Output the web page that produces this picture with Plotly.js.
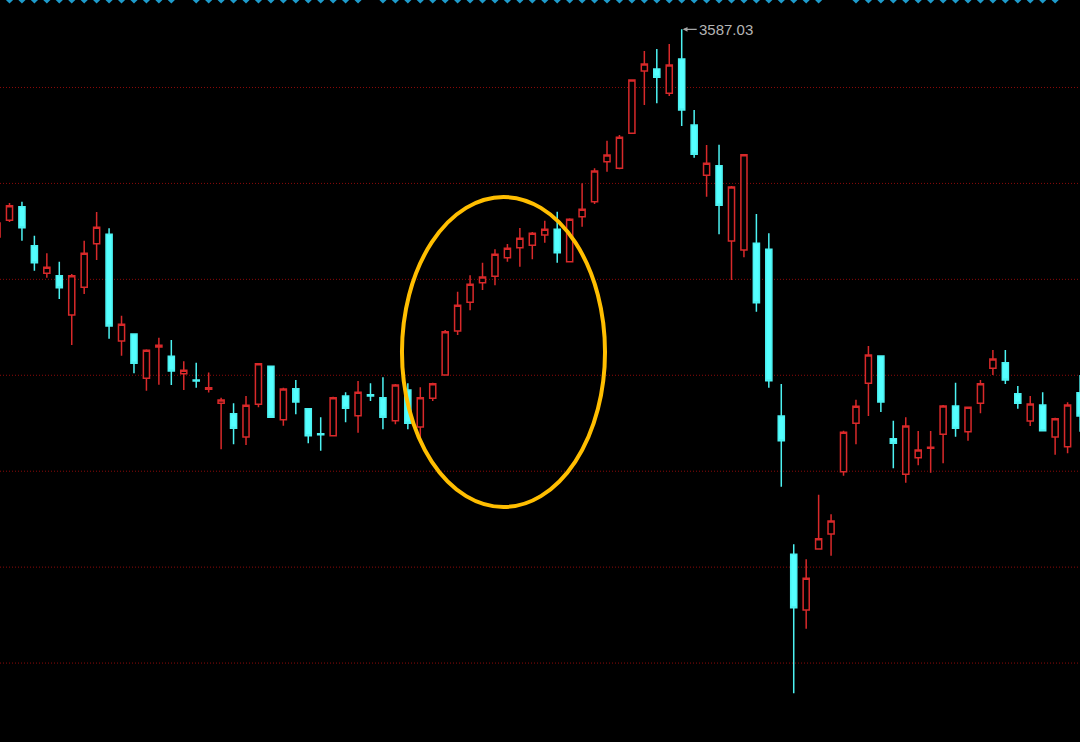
<!DOCTYPE html>
<html>
<head>
<meta charset="utf-8">
<script src="https://cdn.plot.ly/plotly-3.0.1.min.js"></script>
<style>
  html, body { margin: 0; padding: 0; background: #000; overflow: hidden; }
  #chart { width: 1080px; height: 742px; }
</style>
</head>
<body>
<div id="chart"></div>
<script>
// Trading days (daily candles)
const dates = [
  '2017-11-10','2017-11-13','2017-11-14','2017-11-15','2017-11-16','2017-11-17','2017-11-20','2017-11-21','2017-11-22','2017-11-23',
  '2017-11-24','2017-11-27','2017-11-28','2017-11-29','2017-11-30','2017-12-01','2017-12-04','2017-12-05','2017-12-06','2017-12-07',
  '2017-12-08','2017-12-11','2017-12-12','2017-12-13','2017-12-14','2017-12-15','2017-12-18','2017-12-19','2017-12-20','2017-12-21',
  '2017-12-22','2017-12-25','2017-12-26','2017-12-27','2017-12-28','2017-12-29','2018-01-02','2018-01-03','2018-01-04','2018-01-05',
  '2018-01-08','2018-01-09','2018-01-10','2018-01-11','2018-01-12','2018-01-15','2018-01-16','2018-01-17','2018-01-18','2018-01-19',
  '2018-01-22','2018-01-23','2018-01-24','2018-01-25','2018-01-26','2018-01-29','2018-01-30','2018-01-31','2018-02-01','2018-02-02',
  '2018-02-05','2018-02-06','2018-02-07','2018-02-08','2018-02-09','2018-02-12','2018-02-13','2018-02-14','2018-02-22','2018-02-23',
  '2018-02-26','2018-02-27','2018-02-28','2018-03-01','2018-03-02','2018-03-05','2018-03-06','2018-03-07','2018-03-08','2018-03-09',
  '2018-03-12','2018-03-13','2018-03-14','2018-03-15','2018-03-16','2018-03-19','2018-03-20','2018-03-21'
];

const open = [
  3423.03, 3436.22, 3446.96, 3416.16, 3394.37, 3392.48, 3361.45, 3383.32, 3417.74, 3425.17,
  3340.92, 3346.44, 3311.46, 3336.18, 3328.84, 3315.10, 3310.12, 3302.78, 3291.72, 3283.51,
  3265.11, 3290.93, 3320.94, 3278.78, 3303.25, 3287.46, 3267.72, 3266.14, 3297.49, 3281.93,
  3298.52, 3296.15, 3277.99, 3302.23, 3273.01, 3295.67, 3314.03, 3348.81, 3371.47, 3386.95,
  3392.00, 3406.69, 3414.59, 3416.48, 3424.61, 3429.12, 3403.53, 3439.06, 3450.91, 3482.49,
  3477.28, 3504.92, 3554.11, 3555.69, 3536.50, 3563.58, 3511.47, 3471.75, 3479.33, 3419.88,
  3412.77, 3418.06, 3413.32, 3281.70, 3172.49, 3128.51, 3176.68, 3188.52, 3237.72, 3275.93,
  3307.52, 3329.07, 3263.77, 3235.66, 3248.77, 3256.19, 3267.25, 3289.59, 3269.30, 3291.72,
  3319.36, 3323.78, 3299.31, 3277.75, 3290.38, 3265.11, 3257.46, 3300.09
];

const high = [
  3436.45, 3449.88, 3450.91, 3424.06, 3410.16, 3403.53, 3393.82, 3420.11, 3442.77, 3429.91,
  3360.89, 3347.00, 3334.36, 3343.52, 3341.71, 3324.89, 3323.78, 3316.04, 3296.15, 3291.72,
  3297.49, 3323.31, 3321.18, 3304.04, 3310.12, 3287.80, 3280.67, 3296.94, 3300.41, 3309.33,
  3307.52, 3312.25, 3306.96, 3307.52, 3304.36, 3307.99, 3349.60, 3379.84, 3392.79, 3402.74,
  3413.32, 3417.51, 3430.14, 3426.98, 3435.91, 3443.01, 3437.80, 3465.44, 3477.28, 3499.07,
  3503.57, 3547.55, 3569.90, 3571.48, 3575.43, 3587.03, 3523.31, 3495.68, 3495.92, 3463.30,
  3488.30, 3441.20, 3425.96, 3306.96, 3180.39, 3168.55, 3219.56, 3204.08, 3270.09, 3294.57,
  3336.97, 3329.40, 3277.99, 3280.67, 3269.85, 3269.85, 3290.38, 3307.99, 3289.04, 3310.12,
  3333.81, 3333.81, 3305.38, 3297.49, 3300.41, 3280.35, 3292.51, 3314.07
];

const low = [
  3421.45, 3434.88, 3420.11, 3396.43, 3390.90, 3374.08, 3337.76, 3378.03, 3404.87, 3342.73,
  3329.31, 3315.41, 3301.67, 3306.41, 3306.17, 3302.23, 3304.04, 3300.25, 3255.40, 3259.35,
  3258.80, 3288.57, 3280.50, 3274.04, 3283.04, 3260.14, 3254.30, 3265.90, 3276.72, 3268.51,
  3293.54, 3271.19, 3275.14, 3271.19, 3262.75, 3293.54, 3314.03, 3345.65, 3365.16, 3381.19,
  3384.90, 3403.53, 3399.58, 3405.43, 3418.53, 3402.74, 3403.06, 3431.17, 3449.09, 3474.60,
  3476.49, 3504.50, 3527.26, 3528.60, 3534.37, 3510.68, 3485.65, 3454.86, 3425.17, 3389.08,
  3407.01, 3364.05, 3304.04, 3225.87, 3062.74, 3113.75, 3176.40, 3171.39, 3234.56, 3259.35,
  3281.70, 3284.85, 3240.40, 3229.03, 3242.77, 3236.93, 3244.35, 3265.35, 3262.19, 3283.83,
  3314.07, 3306.96, 3287.46, 3273.80, 3269.80, 3251.14, 3252.24, 3269.30
];

const close = [
  3434.08, 3447.75, 3430.38, 3402.74, 3399.11, 3383.00, 3392.48, 3410.16, 3430.69, 3352.76,
  3354.10, 3323.31, 3333.57, 3337.52, 3317.23, 3317.78, 3309.33, 3304.04, 3294.33, 3271.98,
  3290.14, 3322.99, 3280.67, 3303.02, 3292.75, 3266.14, 3266.93, 3296.15, 3287.78, 3300.41,
  3297.49, 3280.67, 3306.17, 3275.93, 3296.15, 3307.20, 3348.26, 3369.11, 3385.69, 3391.45,
  3409.37, 3414.11, 3422.01, 3425.96, 3429.12, 3410.64, 3437.01, 3444.91, 3475.15, 3487.78,
  3501.76, 3547.00, 3559.64, 3549.13, 3558.85, 3523.31, 3488.33, 3481.23, 3448.07, 3462.51,
  3488.02, 3371.16, 3309.57, 3262.19, 3130.33, 3153.54, 3184.81, 3198.79, 3268.83, 3289.36,
  3329.86, 3292.75, 3260.14, 3273.80, 3254.85, 3256.98, 3289.59, 3271.98, 3288.57, 3307.20,
  3326.70, 3310.12, 3291.72, 3291.17, 3270.09, 3279.56, 3290.38, 3281.70
];

// Price levels of the horizontal reference lines
const gridLevels = [3086.6, 3162.35, 3238.1, 3313.85, 3389.6, 3465.35, 3541.1];

// Indicator signal flags shown as markers along the top (1 = on, null = off)
const signal = [
  1,1,1,1,1,1,1,1,1,1,
  1,1,1,1,1,null,1,1,1,1,
  1,1,1,1,1,1,1,1,1,1,
  null,1,1,1,1,1,1,1,1,1,
  1,1,1,1,1,1,1,1,1,1,
  1,1,1,1,1,1,1,1,1,1,
  1,1,1,1,1,1,1,null,null,1,
  1,1,1,1,1,1,1,1,1,1,
  1,1,1,1,1,1,null,null
];

const peakLabel = '3587.03';
const peakDate = '2018-01-29';
const peakValue = 3587.03;

const UP = '#d8292a';
const DOWN_FILL = '#54ffff';
const DOWN_LINE = '#4cf2f2';
const GRID = '#8c0a0a';

const traces = [
  {
    type: 'candlestick',
    x: dates, open: open, high: high, low: low, close: close,
    increasing: { line: { color: UP, width: 1.5 }, fillcolor: '#000000' },
    decreasing: { line: { color: DOWN_LINE, width: 1.5 }, fillcolor: DOWN_FILL },
    whiskerwidth: 0,
    hoverinfo: 'skip',
    showlegend: false
  },
  {
    type: 'scatter', mode: 'markers',
    x: dates, y: signal,
    yaxis: 'y2',
    cliponaxis: false,
    marker: { symbol: 'diamond', size: 5.5, color: '#1e9ccc', line: { width: 0 } },
    hoverinfo: 'skip',
    showlegend: false
  }
];

const layout = {
  width: 1080, height: 742,
  margin: { l: 0, r: 0, t: 0, b: 0, pad: 0 },
  paper_bgcolor: '#000000',
  plot_bgcolor: '#000000',
  showlegend: false,
  xaxis: {
    type: 'category',
    range: [0.237, 86.997],
    showgrid: false, zeroline: false, showline: false,
    showticklabels: false, ticks: '',
    rangeslider: { visible: false },
    fixedrange: true
  },
  yaxis: {
    range: [3024.28, 3610.17],
    tickmode: 'array', tickvals: gridLevels,
    showgrid: false,
    zeroline: false, showline: false, showticklabels: false, ticks: '',
    fixedrange: true
  },
  yaxis2: {
    overlaying: 'y',
    range: [0, 1.0],
    visible: false, showgrid: false, zeroline: false,
    fixedrange: true
  },
  shapes: gridLevels.map(v => ({
    type: 'line', xref: 'paper', yref: 'y', layer: 'below',
    x0: 0, x1: 1, y0: v, y1: v,
    line: { color: GRID, width: 1, dash: '1px,2px' }
  })).concat([
    {
      type: 'circle', xref: 'paper', yref: 'paper',
      x0: 0.3722, x1: 0.5602, y0: 0.3167, y1: 0.7345,
      line: { color: '#ffbe00', width: 4 },
      fillcolor: 'rgba(0,0,0,0)'
    }
  ]),
  annotations: [
    {
      x: peakDate, y: peakValue, xref: 'x', yref: 'y',
      text: peakLabel,
      showarrow: true, arrowhead: 2, arrowsize: 0.8, arrowwidth: 1.2,
      arrowcolor: '#a8a8a8', standoff: 1,
      ax: 15, ay: 0, xanchor: 'left', yanchor: 'middle',
      font: { family: 'Liberation Sans, Arial, sans-serif', size: 15, color: '#b4b4b4' }
    }
  ]
};

Plotly.newPlot('chart', traces, layout, { displayModeBar: false, staticPlot: true });
</script>
</body>
</html>
